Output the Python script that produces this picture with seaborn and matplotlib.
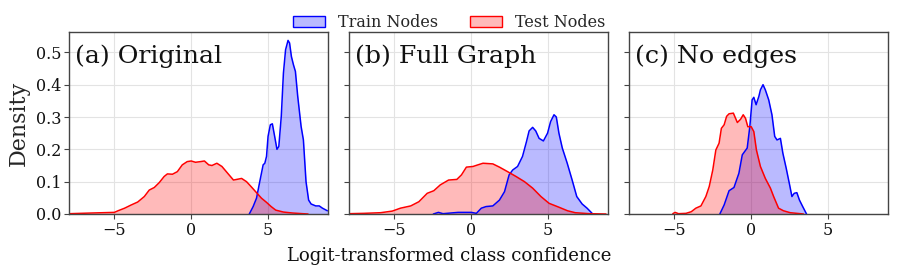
import numpy as np
import pandas as pd
import matplotlib
matplotlib.use("Agg")
import matplotlib.pyplot as plt
import seaborn as sns
from matplotlib.patches import Patch

sns.set_theme(style="whitegrid")
plt.rcParams['font.family'] = ['DejaVu Serif']

panel_titles = ["(a) Original", "(b) Full Graph", "(c) No edges"]
series_names = ["Train Nodes", "Test Nodes"]
x_label = "Logit-transformed class confidence"
y_label = "Density"

# Panel (a)
a_test_x = [-7.9, -6.5, -5.0, -4.76, -4.33, -3.9, -3.48, -3.05, -2.73, -2.4, -2.08, -1.76, -1.55, -1.22, -0.9,
            -0.58, -0.26, 0.0, 0.28, 0.6, 0.86, 1.14, 1.35, 1.67, 2.0, 2.32, 2.75, 3.07, 3.28, 3.6, 3.93,
            4.25, 4.57, 4.9, 5.2, 5.5, 6.0, 6.6, 7.25, 7.6]
a_test_y = [0.001, 0.003, 0.005, 0.010, 0.018, 0.028, 0.037, 0.054, 0.074, 0.082, 0.097, 0.116, 0.124, 0.123, 0.131,
            0.152, 0.162, 0.164, 0.160, 0.162, 0.164, 0.152, 0.150, 0.157, 0.147, 0.129, 0.105, 0.108, 0.110, 0.100, 0.083,
            0.066, 0.049, 0.036, 0.023, 0.012, 0.006, 0.003, 0.001, 0.0]
a_train_x = [3.78, 4.03, 4.25, 4.46, 4.68, 4.79, 4.9, 5.0, 5.15, 5.28, 5.43, 5.58, 5.7, 5.86, 6.0, 6.14, 6.3, 6.4,
             6.52, 6.65, 6.78, 6.93, 7.15, 7.3, 7.47, 7.64, 7.8, 8.1, 8.33, 8.54, 8.86]
a_train_y = [0.0, 0.023, 0.049, 0.100, 0.152, 0.157, 0.178, 0.240, 0.276, 0.279, 0.240, 0.200, 0.209, 0.302, 0.436,
             0.508, 0.537, 0.529, 0.487, 0.462, 0.441, 0.364, 0.271, 0.229, 0.100, 0.043, 0.031, 0.025, 0.025, 0.018, 0.010]

# Panel (b)
b_test_x = [-7.9, -6.95, -5.86, -5.1, -4.57, -3.9, -3.37, -2.83, -2.4, -1.98, -1.44, -0.9, -0.6, -0.28, 0.15, 0.47,
            0.8, 1.44, 1.87, 2.4, 2.95, 3.5, 4.03, 4.57, 5.1, 5.74, 6.3, 6.8, 7.7, 8.8]
b_test_y = [0.001, 0.002, 0.004, 0.009, 0.018, 0.025, 0.038, 0.064, 0.072, 0.090, 0.105, 0.107, 0.121, 0.145, 0.147, 0.152,
            0.157, 0.155, 0.145, 0.131, 0.116, 0.100, 0.080, 0.054, 0.033, 0.021, 0.010, 0.004, 0.001, 0.0]
b_train_x = [-2.43, -2.1, -1.8, -0.82, 0.04, 0.37, 0.69, 1.0, 1.44, 1.87, 2.2, 2.5, 2.73, 3.05, 3.37, 3.63, 3.8, 4.03,
             4.23, 4.45, 4.73, 5.0, 5.2, 5.42, 5.57, 5.74, 5.96, 6.28, 6.6, 6.9, 7.25, 7.57, 7.9]
b_train_y = [0.0, 0.005, 0.001, 0.005, 0.005, 0.002, 0.018, 0.023, 0.025, 0.043, 0.069, 0.121, 0.136, 0.147, 0.178, 0.224,
             0.257, 0.268, 0.257, 0.234, 0.226, 0.250, 0.286, 0.307, 0.300, 0.250, 0.204, 0.157, 0.105, 0.054, 0.031, 0.018, 0.002]

# Panel (c)
c_test_x = [-5.1, -4.95, -4.73, -4.24, -3.9, -3.6, -3.27, -2.95, -2.73, -2.5, -2.3, -2.09, -1.94, -1.76, -1.6, -1.44,
            -1.16, -0.9, -0.69, -0.52, -0.37, -0.22, 0.0, 0.17, 0.34, 0.6, 0.92, 1.25, 1.46, 1.78, 2.1, 2.54, 3.4]
c_test_y = [0.001, 0.005, 0.001, 0.002, 0.007, 0.018, 0.025, 0.054, 0.085, 0.136, 0.198, 0.219, 0.265, 0.276, 0.302, 0.310,
            0.312, 0.283, 0.293, 0.307, 0.296, 0.270, 0.270, 0.255, 0.198, 0.147, 0.110, 0.080, 0.054, 0.018, 0.010, 0.004, 0.0]
c_train_x = [-2.04, -1.76, -1.44, -1.12, -0.8, -0.58, -0.26, -0.09, 0.06, 0.17, 0.32, 0.5, 0.6, 0.77, 0.92, 1.14, 1.35,
             1.53, 1.68, 1.9, 2.06, 2.28, 2.5, 2.65, 2.8, 2.97, 3.14, 3.35, 3.6]
c_train_y = [0.0, 0.028, 0.072, 0.082, 0.126, 0.183, 0.204, 0.270, 0.353, 0.361, 0.338, 0.364, 0.384, 0.400, 0.384, 0.353,
             0.307, 0.240, 0.229, 0.234, 0.188, 0.141, 0.090, 0.054, 0.064, 0.066, 0.043, 0.023, 0.0]

x_ticks = [-5, 0, 5]
y_ticks = [0.0, 0.1, 0.2, 0.3, 0.4, 0.5]

panels = [
    (a_train_x, a_train_y, a_test_x, a_test_y),
    (b_train_x, b_train_y, b_test_x, b_test_y),
    (c_train_x, c_train_y, c_test_x, c_test_y),
]
colors = {"Train Nodes": "blue", "Test Nodes": "red"}

fig = plt.figure(figsize=(8.97, 2.75), dpi=100)
lefts = [69 / 897, 348.5 / 897, 629 / 897]
width = 259 / 897
bottom = 1 - 214 / 275
height = (214 - 32) / 275

axes = []
for i, (trx, tr_y, tex, te_y) in enumerate(panels):
    ax = fig.add_axes([lefts[i], bottom, width, height])
    axes.append(ax)
    for name, xs, ys in [("Train Nodes", trx, tr_y), ("Test Nodes", tex, te_y)]:
        df = pd.DataFrame({"x": xs, "y": ys})
        sns.lineplot(data=df, x="x", y="y", ax=ax, color=colors[name], lw=1.1, sort=False, legend=False)
        ax.fill_between(df["x"], df["y"], color=colors[name], alpha=0.27, lw=0)
    if ax.get_legend() is not None:
        ax.get_legend().remove()
    ax.set_xlim(-7.95, 8.9)
    ax.set_ylim(0, 0.563)
    ax.set_xticks(x_ticks)
    ax.set_yticks(y_ticks)
    ax.set_xticklabels(["\u22125", "0", "5"])
    ax.set_xlabel("")
    ax.set_ylabel("")
    ax.grid(True, color="#e3e3e3", lw=0.8)
    for s in ax.spines.values():
        s.set_color("#444444")
        s.set_linewidth(1.0)
    ax.tick_params(axis="both", which="both", labelsize=11.5, length=3.5, width=0.8,
                   color="#444444", left=True, bottom=True, pad=2, labelcolor="#111111")
    if i == 0:
        ax.set_yticklabels([f"{v:.1f}" for v in y_ticks])
        ax.set_ylabel(y_label, fontsize=16, labelpad=4)
    else:
        ax.set_yticklabels([])
    ax.text(0.025, 0.93, panel_titles[i], transform=ax.transAxes, fontsize=18.2,
            va="top", ha="left", color="#111111")

fig.text(449 / 897, 1 - 256 / 275, x_label, fontsize=13.1, ha="center", va="center",
         color="#111111")

handles = [Patch(facecolor=(0, 0, 1, 0.27), edgecolor="blue", label="Train Nodes"),
           Patch(facecolor=(1, 0, 0, 0.27), edgecolor="red", label="Test Nodes")]
fig.legend(handles=handles, loc="center", ncol=2, frameon=False, fontsize=11.5,
           bbox_to_anchor=(449 / 897, 1 - 22.5 / 275), columnspacing=2.0, handlelength=2.0,
           handletextpad=0.8, borderaxespad=0, borderpad=0)

fig.savefig("out.png", dpi=100)
